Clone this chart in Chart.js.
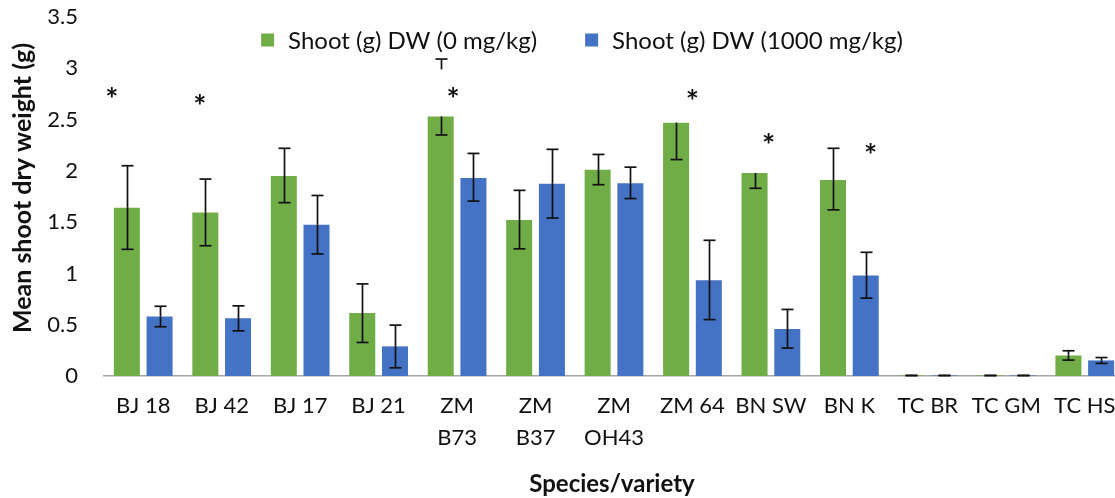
<!DOCTYPE html>
<html><head><meta charset="utf-8">
<script src="https://cdn.jsdelivr.net/npm/chart.js@4.4.0/dist/chart.umd.min.js"></script>
<style>
html,body{margin:0;padding:0;background:#fff;overflow:hidden;width:1115px;height:498px;}
#wrap{position:relative;width:1124px;height:498px;}
</style></head><body>
<div id="wrap"><canvas id="c" width="1124" height="498"></canvas></div>
<script>
// ---- data ----
const categories = ["BJ 18","BJ 42","BJ 17","BJ 21",["ZM","B73"],["ZM","B37"],["ZM","OH43"],"ZM 64","BN SW","BN K","TC BR","TC GM","TC HS"];
const seriesNames = ["Shoot (g) DW (0 mg/kg)","Shoot (g) DW (1000 mg/kg)"];
const green = [1.64, 1.595, 1.95, 0.613, 2.53, 1.52, 2.01, 2.47, 1.98, 1.91, 0.005, 0.005, 0.20];
const blue  = [0.58, 0.564, 1.475, 0.289, 1.93, 1.875, 1.88, 0.934, 0.457, 0.98, 0.005, 0.005, 0.152];
// error bar extents (null = upper part not shown)
const greenErrTop    = [2.05, 1.92, 2.22, 0.898, 3.09, 1.81, 2.16, null, null, 2.22, 0.005, 0.005, 0.246];
const greenErrBottom = [1.235, 1.27, 1.69, 0.327, 2.35, 1.24, 1.865, 2.11, 1.83, 1.62, 0.005, 0.005, 0.155];
const greenStemFrom  = [null, null, null, null, 2.99, null, null, null, null, null, null, null, null];
const blueErrTop     = [0.68, 0.684, 1.76, 0.496, 2.17, 2.21, 2.036, 1.323, 0.649, 1.206, 0.005, 0.005, 0.18];
const blueErrBottom  = [0.48, 0.44, 1.19, 0.08, 1.705, 1.54, 1.73, 0.55, 0.272, 0.759, 0.005, 0.005, 0.123];
// significance stars: category index, horizontal offset (in categories), value
const starCat = [0, 1, 4, 7, 8, 9];
const starOff = [-0.40, -0.28, -0.05, 0.0, -0.03, 0.27];
const starVal = [2.76, 2.69, 2.76, 2.74, 2.31, 2.21];
const yTicks = [0, 0.5, 1, 1.5, 2, 2.5, 3, 3.5];
const yTitle = 'Mean shoot dry weight (g)';
const xTitle = 'Species/variety';

const GREEN = '#70AD47', BLUE = '#4472C4';
Chart.defaults.font.family = 'Lato, "Open Sans", sans-serif';
Chart.defaults.color = '#111';

const errPlugin = {
  id: 'errbars',
  afterDatasetsDraw(chart) {
    const ctx = chart.ctx, ys = chart.scales.y;
    const sets = [[greenErrTop, greenErrBottom, greenStemFrom], [blueErrTop, blueErrBottom, null]];
    ctx.save();
    ctx.strokeStyle = '#111'; ctx.lineWidth = 1.7; ctx.lineCap = 'butt';
    const seg = (x1,y1,x2,y2)=>{ctx.beginPath();ctx.moveTo(x1,y1);ctx.lineTo(x2,y2);ctx.stroke();};
    chart.data.datasets.forEach((ds, di) => {
      const meta = chart.getDatasetMeta(di);
      const [tops, bots, stems] = sets[di];
      meta.data.forEach((bar, i) => {
        const x = Math.round(bar.x) + 0.5, cap = 6;
        const yv = ys.getPixelForValue(ds.data[i]);
        const yb = ys.getPixelForValue(bots[i]);
        seg(x, yv, x, yb); seg(x-cap, yb, x+cap, yb);
        if (tops[i] != null) {
          const yt = ys.getPixelForValue(tops[i]);
          const yfrom = ys.getPixelForValue(stems && stems[i] != null ? stems[i] : ds.data[i]);
          seg(x, yfrom, x, yt); seg(x-cap, yt, x+cap, yt);
        }
      });
    });
    ctx.restore();
  }
};

const starPlugin = {
  id: 'stars',
  afterDatasetsDraw(chart) {
    const ctx = chart.ctx, xs = chart.scales.x, ys = chart.scales.y;
    ctx.save();
    ctx.fillStyle = '#111';
    ctx.font = 'bold 31px Lato';
    ctx.textAlign = 'center'; ctx.textBaseline = 'alphabetic';
    starCat.forEach((c, k) => {
      const x = xs.getPixelForValue(c + starOff[k]);
      const y = ys.getPixelForValue(starVal[k]);
      ctx.fillText('*', x, y + 17);
    });
    ctx.restore();
  }
};

const textPlugin = {
  id: 'customText',
  afterDraw(chart) {
    const ctx = chart.ctx;
    ctx.save();
    // legend
    ctx.font = '24px Lato';
    ctx.textBaseline = 'middle'; ctx.textAlign = 'left';
    const box = 13, gapText = 14, gapItem = 48;
    const colors = [GREEN, BLUE];
    const widths = seriesNames.map(t => ctx.measureText(t).width);
    const total = widths.reduce((a,w)=>a+box+gapText+w,0) + gapItem*(seriesNames.length-1);
    let x = 582 - total/2;
    const yc = 40;
    seriesNames.forEach((t, i) => {
      ctx.fillStyle = colors[i];
      ctx.fillRect(x, yc - box/2, box, box);
      ctx.fillStyle = '#111';
      ctx.fillText(t, x + box + gapText, yc + 1);
      x += box + gapText + widths[i] + gapItem;
    });
    // axis titles
    ctx.font = 'bold 24px Lato';
    ctx.textAlign = 'center'; ctx.textBaseline = 'middle';
    ctx.fillText(xTitle, 612, 484);
    ctx.font = 'bold 25px Lato';
    ctx.translate(23, 188);
    ctx.rotate(-Math.PI/2);
    ctx.fillText(yTitle, 0, 0);
    ctx.restore();
  }
};

new Chart(document.getElementById('c'), {
  type: 'bar',
  data: {
    labels: categories,
    datasets: [
      { label: seriesNames[0], data: green, backgroundColor: GREEN, categoryPercentage: 0.834, barPercentage: 0.795 },
      { label: seriesNames[1], data: blue, backgroundColor: BLUE, categoryPercentage: 0.834, barPercentage: 0.795 }
    ]
  },
  options: {
    responsive: false,
    animation: false,
    devicePixelRatio: 1,
    layout: { padding: { top: 17, left: 0, right: 0, bottom: 0 } },
    plugins: { legend: { display: false }, tooltip: { enabled: false } },
    scales: {
      x: {
        grid: { display: false, drawTicks: false },
        border: { display: true, color: '#A6A6A6', width: 1.5 },
        ticks: { autoSkip: false, maxRotation: 0, minRotation: 0, padding: 14, font: { size: 22, lineHeight: 1.45 }, color: '#111' },
        afterFit(s) { s.height = 122; s.paddingLeft = 0; s.paddingRight = 0; }
      },
      y: {
        min: 0, max: 3.5,
        grid: { display: false, drawTicks: false },
        border: { display: false },
        afterBuildTicks(s) { s.ticks = yTicks.map(v => ({ value: v })); },
        ticks: { padding: 26, font: { size: 22 }, color: '#111', callback: v => String(v) },
        afterFit(s) { s.width = 104; s.paddingTop = 0; s.paddingBottom = 0; }
      }
    }
  },
  plugins: [errPlugin, starPlugin, textPlugin]
});
</script>
</body></html>
